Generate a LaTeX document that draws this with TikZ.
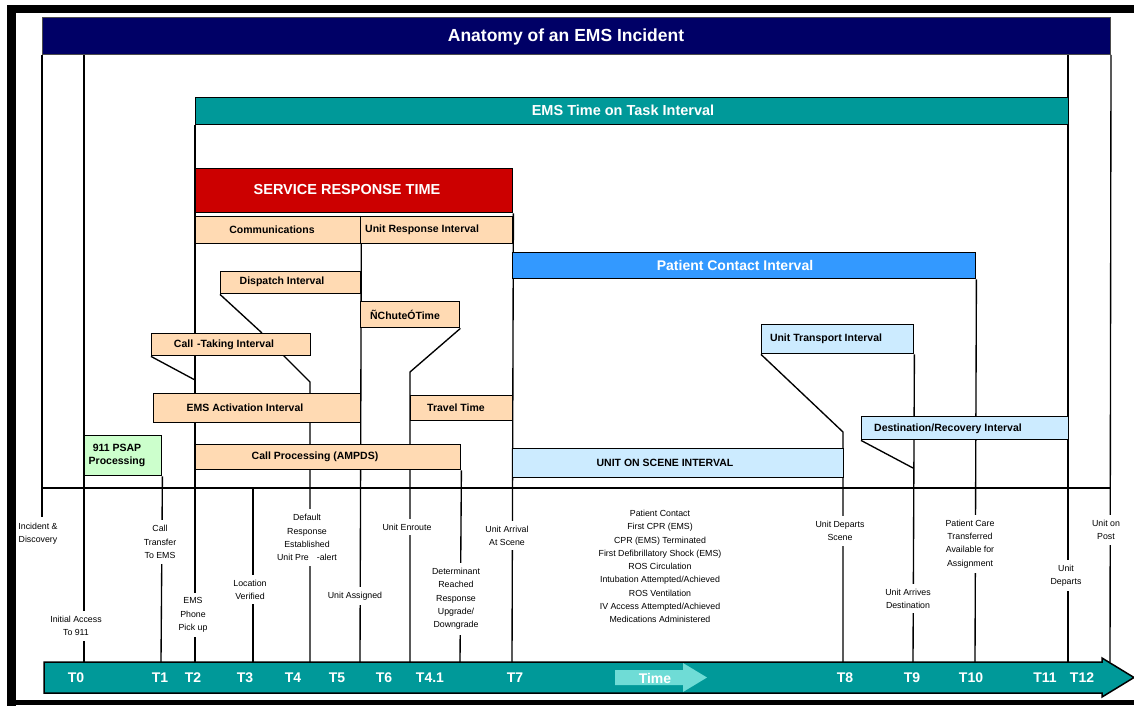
\documentclass[tikz,border=0pt]{standalone}
\usepackage{fontspec}
\setmainfont{Liberation Sans}
\usetikzlibrary{calc}
\pgfdeclarelayer{bg}
\pgfsetlayers{bg,main}
\definecolor{navy}{HTML}{000066}
\definecolor{teal}{HTML}{009999}
\definecolor{srtred}{HTML}{CC0000}
\definecolor{peach}{HTML}{FFDAB3}
\definecolor{lgreen}{HTML}{CCFFCC}
\definecolor{lblue}{HTML}{CCEBFF}
\definecolor{pcblue}{HTML}{3399FF}
\definecolor{timecol}{HTML}{6FDCD6}
\begin{document}
\begin{tikzpicture}[x=1pt,y=-1pt,
  box/.style={draw=black,line width=1.4pt,inner sep=0pt,anchor=north west},
  btxt/.style={font=\bfseries\fontsize{10.5}{12.5}\selectfont,inner sep=0pt},
  wtxt/.style={text=white,font=\bfseries\fontsize{14.5}{16}\selectfont,inner sep=0pt},
  conn/.style={line width=1.35pt,draw=black},
  tlab/.style={fill=white,align=center,font=\fontsize{8.8}{13.3}\selectfont,inner xsep=1pt,inner ysep=5pt},
  tmark/.style={text=white,font=\bfseries\fontsize{14}{16}\selectfont,inner sep=0pt}]
\useasboundingbox (0,0) rectangle (1134,706);
\begin{pgfonlayer}{bg}
\fill[white] (0,0) rectangle (1134,706);
\end{pgfonlayer}
% outer frame
\fill[black] (7,5) rectangle (16,706);
\fill[black] (7,5) rectangle (1134,13);
\fill[black] (7,700) rectangle (1134,705);

% boxes
\node[box,fill=navy,draw=black!70,line width=1pt,minimum width=1068pt,minimum height=37pt] (title) at (42,17) {};
\node[wtxt,font=\bfseries\fontsize{17.5}{20}\selectfont] (titletext) at (566,37) {Anatomy of an EMS Incident};

\node[box,fill=teal,minimum width=873pt,minimum height=27pt] (ontask) at (195,97) {};
\node[wtxt] (ontasktext) at (623,110) {EMS Time on Task Interval};

\node[box,fill=srtred,minimum width=317pt,minimum height=44pt] (srt) at (195,168) {};
\node[wtxt] (srttext) at (347,189.5) {SERVICE RESPONSE TIME};

\node[box,fill=peach,minimum width=165pt,minimum height=27pt] (comm) at (195,216) {};
\node[btxt] (commtext) at (272,230) {Communications};
\node[box,fill=peach,minimum width=152pt,minimum height=27pt] (uri) at (360,216) {};
\node[btxt,anchor=west] (uritext) at (365,230) {Unit Response Interval};

\node[box,fill=peach,minimum width=140pt,minimum height=22pt] (dispatch) at (220,271) {};
\node[btxt] (dispatchtext) at (282,282) {Dispatch Interval};

\node[box,fill=peach,minimum width=99pt,minimum height=26pt] (chute) at (360,301) {};
\node[btxt] (chutetext) at (405,315) {ÑChuteÓTime};

\node[box,fill=peach,minimum width=159pt,minimum height=22pt] (calltake) at (151,333) {};
\node[btxt] (calltaketext) at (224,345) {Call\hspace{4pt}-Taking Interval};

\node[box,fill=peach,minimum width=207pt,minimum height=29pt] (emsact) at (153,393) {};
\node[btxt] (emsacttext) at (245,408) {EMS Activation Interval};

\node[box,fill=peach,minimum width=102pt,minimum height=25pt] (travel) at (410,395) {};
\node[btxt] (traveltext) at (456,408) {Travel Time};

\node[box,fill=lgreen,minimum width=77pt,minimum height=40pt] (psap) at (84,435) {};
\node[btxt,align=center] (psaptext) at (117,455.5) {911 PSAP\\Processing};

\node[box,fill=peach,minimum width=265pt,minimum height=25pt] (callproc) at (195,444) {};
\node[btxt] (callproctext) at (315,457) {Call Processing (AMPDS)};

\node[box,fill=pcblue,minimum width=463pt,minimum height=26pt] (pci) at (512,252) {};
\node[wtxt,font=\bfseries\fontsize{14}{16}\selectfont] (pcitext) at (735,265.5) {Patient Contact Interval};

\node[box,fill=lblue,minimum width=152pt,minimum height=29pt] (transport) at (761,324) {};
\node[btxt] (transporttext) at (826,339) {Unit Transport Interval};

\node[box,fill=lblue,minimum width=207pt,minimum height=23pt] (dest) at (861,416) {};
\node[btxt] (desttext) at (948,429) {Destination/Recovery Interval};

\node[box,fill=lblue,minimum width=331pt,minimum height=29pt] (scene) at (512,448) {};
\node[btxt] (scenetext) at (665,463) {UNIT ON SCENE INTERVAL};

% coordinates
\coordinate (baseL) at (42,488);
\coordinate (baseR) at (1110,488);
\coordinate (inc) at (42,517);
\coordinate (b0) at (84,662);
\coordinate (b1) at (161,662);
\coordinate (b2) at (195,662);
\coordinate (b3) at (253,662);
\coordinate (b4) at (310,662);
\coordinate (b5) at (360,662);
\coordinate (b6) at (410,662);
\coordinate (b41) at (460,662);
\coordinate (b7) at (512,662);
\coordinate (b8) at (843,662);
\coordinate (b9) at (913,662);
\coordinate (b10) at (975,662);
\coordinate (b11) at (1068,662);
\coordinate (b12) at (1110,662);
\coordinate (k1) at (195,380);
\coordinate (k2) at (283,355);
\coordinate (k3) at (310,382);
\coordinate (k4) at (262,333);
\coordinate (k5) at (410,372);
\coordinate (k6) at (843,432);
\coordinate (k7) at (913,468);

\begin{pgfonlayer}{bg}
\draw[conn] (title.south west) -- (inc);
\draw[conn] (b0 |- title.south) -- (b0);
\draw[conn] (psap.south east) -- (b1);
\draw[conn] (ontask.south west) -- (b2);
\draw[conn] (b3 |- baseL) -- (b3);
\draw[conn] (calltake.south west) -- (k1);
\draw[conn] (k2) -- (k3) -- (b4);
\draw[conn] (dispatch.south west) -- (k4);
\draw[conn] (comm.north east) -- (b5);
\draw[conn] (chute.south east) -- (k5) -- (b6);
\draw[conn] (callproc.south east) -- (b41);
\draw[conn] (srt.south east) -- (b7);
\draw[conn] (pci.south east) -- (b10);
\draw[conn] (transport.south west) -- (k6) -- (b8);
\draw[conn] (transport.south east) -- (b9);
\draw[conn] (dest.south west) -- (k7);
\draw[conn] (b11 |- title.south) -- (b11);
\draw[conn] (title.south east) -- (b12);
\draw[conn] (baseL) -- (baseR);
\end{pgfonlayer}

% tick labels
\node[tlab,fill=none] (inclab) at (38,534) {Incident \&\\Discovery};
\node[tlab] (t0lab) at (76,626) {Initial Access\\To 911};
\node[tlab] (t1lab) at (160,542) {Call\\Transfer\\To EMS};
\node[tlab] (t2lab) at (193,615) {EMS\\Phone\\Pick up};
\node[tlab] (t3lab) at (250,589.5) {Location\\Verified};
\node[tlab] (t4lab) at (307,537.5) {Default\\Response\\Established\\Unit Pre\hspace{8pt}-alert};
\node[tlab] (t5lab) at (355,596) {Unit Assigned};
\node[tlab] (t6lab) at (407,527) {Unit Enroute};
\node[tlab] (t41lab) at (456,599) {Determinant\\Reached\\Response\\Upgrade/\\Downgrade};
\node[tlab] (t7lab) at (507,535.5) {Unit Arrival\\At Scene};
\node[tlab,fill=none] (pclist) at (660,566.5) {Patient Contact\\First CPR (EMS)\\CPR (EMS) Terminated\\First Defibrillatory Shock (EMS)\\ROS Circulation\\Intubation Attempted/Achieved\\ROS Ventilation\\IV Access Attempted/Achieved\\Medications Administered};
\node[tlab] (t8lab) at (840,531) {Unit Departs\\Scene};
\node[tlab] (t9lab) at (908,598.5) {Unit Arrives\\Destination};
\node[tlab] (t10lab) at (970,544) {Patient Care\\Transferred\\Available for\\Assignment};
\node[tlab] (t11lab) at (1066,575.5) {Unit\\Departs};
\node[tlab] (t12lab) at (1106,530) {Unit on\\Post};

% time axis
\draw[fill=teal,line width=1.5pt,line join=miter] (44,662) -- (1102,662) -- (1102,658) -- (1134,677.5) -- (1102,697) -- (1102,693) -- (44,693) -- cycle;
\fill[timecol] (615,670) -- (683,670) -- (683,663) -- (707,677.5) -- (683,692) -- (683,685) -- (615,685) -- cycle;
\node[tmark] (timetext) at (655,678) {Time};
\node[tmark] (T0) at (76,678) {T0};
\node[tmark] (T1) at (160,678) {T1};
\node[tmark] (T2) at (193,678) {T2};
\node[tmark] (T3) at (245,678) {T3};
\node[tmark] (T4) at (293,678) {T4};
\node[tmark] (T5) at (337,678) {T5};
\node[tmark] (T6) at (384,678) {T6};
\node[tmark] (T41) at (430,678) {T4.1};
\node[tmark] (T7) at (515,678) {T7};
\node[tmark] (T8) at (845,678) {T8};
\node[tmark] (T9) at (912,678) {T9};
\node[tmark] (T10) at (971,678) {T10};
\node[tmark] (T11) at (1045,678) {T11};
\node[tmark] (T12) at (1082,678) {T12};
\end{tikzpicture}
\end{document}
